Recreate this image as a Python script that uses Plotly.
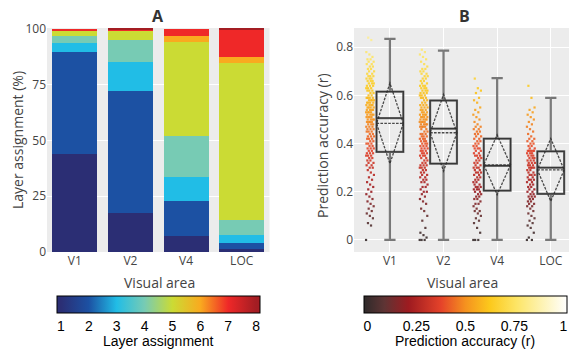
import plotly.graph_objects as go

W, H = 569, 349
def px(x): return x / W
def py(y): return 1 - y / H

# ---------------- Panel A data ----------------
areas = ["V1", "V2", "V4", "LOC"]
layers = [1, 2, 3, 4, 5, 6, 7, 8]
layer_pct = {
    1: [44.0, 17.5, 7.0, 1.3],
    2: [45.8, 54.8, 15.8, 2.6],
    3: [4.1, 13.0, 10.8, 3.6],
    4: [3.1, 9.9, 18.4, 6.7],
    5: [2.4, 4.1, 42.3, 70.4],
    6: [0.1, 0.2, 2.7, 3.0],
    7: [0.5, 0.3, 3.0, 12.1],
    8: [0.0, 0.2, 0.0, 0.3],
}
layer_colors = ["#2b2e74", "#1c51a3", "#21bde6", "#77cbb4",
                "#cbdb34", "#f9aa1f", "#ef2828", "#a31d23"]

# ---------------- Panel B data ----------------
acc_V1 = [0.00, 0.06, 0.07, 0.09, 0.10, 0.11, 0.12, 0.13, 0.14, 0.15, 0.16, 0.17, 0.18, 0.19, 0.20,
          0.21, 0.22, 0.23, 0.24, 0.25, 0.26, 0.27, 0.28, 0.29, 0.30, 0.30, 0.31, 0.31, 0.32, 0.32,
          0.33, 0.33, 0.34, 0.34, 0.35, 0.35, 0.35, 0.36, 0.36, 0.36,
          0.37, 0.37, 0.38, 0.38, 0.38, 0.39, 0.39, 0.40, 0.40, 0.40, 0.41, 0.41, 0.42, 0.42, 0.42,
          0.43, 0.43, 0.43, 0.44, 0.44, 0.45, 0.45, 0.45, 0.46, 0.46, 0.46, 0.47, 0.47, 0.47, 0.48,
          0.48, 0.48, 0.49, 0.49, 0.49, 0.49, 0.50, 0.50, 0.50, 0.50,
          0.51, 0.51, 0.51, 0.51, 0.52, 0.52, 0.52, 0.52, 0.53, 0.53, 0.53, 0.53, 0.54, 0.54, 0.54,
          0.54, 0.55, 0.55, 0.55, 0.55, 0.56, 0.56, 0.56, 0.56, 0.57, 0.57, 0.57, 0.57, 0.58, 0.58,
          0.58, 0.58, 0.59, 0.59, 0.59, 0.59, 0.60, 0.60, 0.61, 0.61,
          0.62, 0.62, 0.62, 0.63, 0.63, 0.63, 0.64, 0.64, 0.64, 0.65, 0.65, 0.65, 0.66, 0.66, 0.66,
          0.67, 0.67, 0.67, 0.68, 0.68, 0.68, 0.69, 0.69, 0.70, 0.70, 0.71, 0.71, 0.72, 0.72, 0.73,
          0.73, 0.74, 0.74, 0.75, 0.75, 0.76, 0.77, 0.78, 0.83, 0.84]
acc_V2 = [0.00, 0.00, 0.00, 0.01, 0.02, 0.03, 0.05, 0.08, 0.10, 0.12, 0.13, 0.15, 0.16, 0.17, 0.18,
          0.19, 0.20, 0.20, 0.21, 0.22, 0.22, 0.23, 0.24, 0.24, 0.25, 0.25, 0.26, 0.26, 0.27, 0.27,
          0.28, 0.28, 0.29, 0.29, 0.30, 0.30, 0.30, 0.31, 0.31, 0.31,
          0.32, 0.32, 0.33, 0.33, 0.34, 0.34, 0.35, 0.35, 0.35, 0.36, 0.36, 0.36, 0.37, 0.37, 0.37,
          0.38, 0.38, 0.38, 0.39, 0.39, 0.39, 0.40, 0.40, 0.40, 0.41, 0.41, 0.41, 0.42, 0.42, 0.42,
          0.43, 0.43, 0.43, 0.44, 0.44, 0.44, 0.45, 0.45, 0.46, 0.46,
          0.47, 0.47, 0.47, 0.47, 0.48, 0.48, 0.48, 0.48, 0.49, 0.49, 0.49, 0.49, 0.50, 0.50, 0.50,
          0.50, 0.51, 0.51, 0.51, 0.51, 0.52, 0.52, 0.52, 0.52, 0.53, 0.53, 0.53, 0.54, 0.54, 0.54,
          0.55, 0.55, 0.55, 0.56, 0.56, 0.56, 0.57, 0.57, 0.58, 0.58,
          0.59, 0.59, 0.59, 0.60, 0.60, 0.60, 0.61, 0.61, 0.61, 0.62, 0.62, 0.62, 0.63, 0.63, 0.63,
          0.64, 0.64, 0.64, 0.65, 0.65, 0.66, 0.66, 0.67, 0.67, 0.68, 0.68, 0.69, 0.69, 0.70, 0.70,
          0.71, 0.71, 0.72, 0.73, 0.74, 0.75, 0.76, 0.77, 0.78, 0.79]
acc_V4 = [0.00, 0.00, 0.00, 0.03, 0.05, 0.07, 0.08, 0.09, 0.10, 0.11, 0.12, 0.12, 0.13, 0.14, 0.15,
          0.15, 0.16, 0.17, 0.17, 0.18, 0.18, 0.19, 0.19, 0.20, 0.20,
          0.21, 0.21, 0.21, 0.22, 0.22, 0.22, 0.23, 0.23, 0.24, 0.24, 0.25, 0.25, 0.26, 0.26, 0.27,
          0.27, 0.28, 0.28, 0.28, 0.29, 0.29, 0.30, 0.30, 0.30, 0.31,
          0.31, 0.32, 0.32, 0.33, 0.33, 0.34, 0.34, 0.35, 0.35, 0.35, 0.36, 0.36, 0.37, 0.37, 0.38,
          0.38, 0.38, 0.39, 0.39, 0.40, 0.40, 0.41, 0.41, 0.42, 0.42,
          0.43, 0.43, 0.44, 0.44, 0.45, 0.45, 0.46, 0.46, 0.47, 0.47, 0.48, 0.49, 0.50, 0.51, 0.52,
          0.53, 0.54, 0.55, 0.57, 0.58, 0.59, 0.61, 0.62, 0.63, 0.67]
acc_LOC = [0.00, 0.00, 0.01, 0.03, 0.05, 0.06, 0.07, 0.08, 0.09, 0.10, 0.11, 0.12, 0.13, 0.14, 0.14,
           0.15, 0.15, 0.16, 0.16, 0.17, 0.17, 0.18, 0.18, 0.18, 0.19,
           0.19, 0.20, 0.20, 0.21, 0.21, 0.22, 0.22, 0.23, 0.23, 0.24, 0.24, 0.25, 0.25, 0.25, 0.26,
           0.26, 0.27, 0.27, 0.27, 0.28, 0.28, 0.29, 0.29, 0.30, 0.30,
           0.30, 0.30, 0.31, 0.31, 0.31, 0.32, 0.32, 0.32, 0.33, 0.33, 0.33, 0.34, 0.34, 0.34, 0.35,
           0.35, 0.35, 0.36, 0.36, 0.36, 0.37, 0.37, 0.37, 0.37, 0.37,
           0.38, 0.38, 0.39, 0.39, 0.40, 0.40, 0.41, 0.41, 0.42, 0.42, 0.43, 0.44, 0.45, 0.46, 0.47,
           0.48, 0.49, 0.50, 0.51, 0.52, 0.53, 0.54, 0.55, 0.59, 0.64]
acc_points = [acc_V1, acc_V2, acc_V4, acc_LOC]

box_q1 = [0.366, 0.317, 0.205, 0.191]
box_median = [0.506, 0.462, 0.308, 0.300]
box_q3 = [0.616, 0.579, 0.421, 0.368]
box_low = [0.0, 0.0, 0.0, 0.0]
box_high = [0.835, 0.786, 0.672, 0.590]
box_mean = [0.484, 0.445, 0.312, 0.291]
box_sd = [0.167, 0.159, 0.124, 0.130]

acc_scale = [[0.0, "#2e2a2a"], [0.10, "#5e3434"], [0.22, "#9e1b20"], [0.38, "#e5432a"],
             [0.50, "#f5921f"], [0.62, "#fcc91c"], [0.75, "#fde565"], [0.88, "#fdf3b5"],
             [1.0, "#ffffff"]]

cb_font = dict(family="Liberation Sans", size=14, color="black")

fig = go.Figure()

# ---------- Panel A: stacked bars ----------
for k, lay in enumerate(layers):
    fig.add_trace(go.Bar(x=list(range(len(areas))), y=layer_pct[lay], width=0.81,
                         marker=dict(color=layer_colors[k], line=dict(width=0)),
                         xaxis="x", yaxis="y", showlegend=False, hoverinfo="skip"))

# colorbar A via dummy trace
cminA, cmaxA = 0.86, 8.14
layer_scale = [[(v - cminA) / (cmaxA - cminA), c] for v, c in zip(layers, layer_colors)]
layer_scale = [[0.0, layer_colors[0]]] + layer_scale + [[1.0, layer_colors[-1]]]
fig.add_trace(go.Scatter(
    x=[-10, -10], y=[0, 0], mode="markers", xaxis="x", yaxis="y", showlegend=False,
    hoverinfo="skip",
    marker=dict(color=[1, 8], cmin=cminA, cmax=cmaxA, colorscale=layer_scale, showscale=True,
                colorbar=dict(orientation="h", x=px(158.5), xanchor="center",
                              y=py(296), yanchor="top", len=203, lenmode="pixels",
                              thickness=17, thicknessmode="pixels", xpad=0, ypad=0,
                              outlinewidth=1, outlinecolor="black",
                              tickvals=layers, ticks="", tickfont=cb_font))))

# ---------- Panel B: points ----------
offset = -0.37
for i, vals in enumerate(acc_points):
    xs = [i + offset + (((j * 0.6180339887) % 1.0) - 0.5) * 0.15 for j in range(len(vals))]
    fig.add_trace(go.Scatter(
        x=xs, y=vals, mode="markers", xaxis="x2", yaxis="y2", showlegend=False,
        hoverinfo="skip",
        marker=dict(symbol="square", size=2.2, color=vals, cmin=-0.0184, cmax=1.0184,
                    colorscale=acc_scale, opacity=0.9, line=dict(width=0),
                    showscale=(i == 0),
                    colorbar=dict(orientation="h", x=px(465.4), xanchor="center",
                                  y=py(296), yanchor="top", len=203, lenmode="pixels",
                                  thickness=17, thicknessmode="pixels", xpad=0, ypad=0,
                                  outlinewidth=1, outlinecolor="black",
                                  tickvals=[0, 0.25, 0.5, 0.75, 1],
                                  ticktext=["0", "0.25", "0.5", "0.75", "1"], ticks="",
                                  tickfont=cb_font))))

# ---------- Panel B: boxes (gray whiskers, then darker box/median/mean) ----------
for i in range(len(areas)):
    fig.add_trace(go.Box(
        x=[i], q1=[box_q1[i]], median=[box_median[i]], q3=[box_q3[i]],
        lowerfence=[box_low[i]], upperfence=[box_high[i]],
        boxpoints=False, width=0.5, whiskerwidth=0.42, fillcolor="rgba(0,0,0,0)",
        line=dict(color="rgba(90,90,90,0.8)", width=2.2),
        xaxis="x2", yaxis="y2", showlegend=False, hoverinfo="skip"))
    fig.add_trace(go.Box(
        x=[i], q1=[box_q1[i]], median=[box_median[i]], q3=[box_q3[i]],
        lowerfence=[box_q1[i]], upperfence=[box_q3[i]],
        mean=[box_mean[i]], sd=[box_sd[i]], boxmean="sd", boxpoints=False,
        width=0.5, whiskerwidth=0, fillcolor="rgba(0,0,0,0)",
        line=dict(color="rgba(45,45,45,0.85)", width=1.3),
        xaxis="x2", yaxis="y2", showlegend=False, hoverinfo="skip"))

axis_common = dict(showline=False, zeroline=False, ticks="", gridcolor="white",
                   gridwidth=1.3, tickfont=dict(family="Open Sans", size=12, color="#444"))

fig.update_layout(
    width=W, height=H, margin=dict(l=0, r=0, t=0, b=0, autoexpand=False),
    paper_bgcolor="white", plot_bgcolor="#ececec",
    font=dict(family="Open Sans", color="#444"),
    barmode="stack", boxmode="overlay", showlegend=False,
    xaxis=dict(domain=[px(47), px(269.5)], range=[-0.5, 3.5], tickvals=[0, 1, 2, 3],
               ticktext=areas, showgrid=False, anchor="y", automargin=False, **axis_common),
    yaxis=dict(domain=[py(252), py(28)], range=[0, 100.4], tickvals=[0, 25, 50, 75, 100],
               anchor="x", automargin=False, **axis_common),
    xaxis2=dict(domain=[px(354), 1.0], range=[-0.67, 3.34], tickvals=[0, 1, 2, 3],
                ticktext=areas, showgrid=True, anchor="y2", automargin=False, **axis_common),
    yaxis2=dict(domain=[py(252), py(28)], range=[-0.05, 0.88],
                tickvals=[0, 0.2, 0.4, 0.6, 0.8], ticktext=["0", "0.2", "0.4", "0.6", "0.8"],
                anchor="x2", automargin=False, **axis_common),
)

ann_font = dict(family="Open Sans", size=14, color="#444")
def label(text, x, y, font, angle=0):
    fig.add_annotation(text=text, x=px(x), y=py(y), xref="paper", yref="paper",
                       xanchor="center", yanchor="middle", showarrow=False,
                       textangle=angle, font=font)

label("<b>A</b>", 158, 16, dict(family="Open Sans", size=16, color="#333"))
label("<b>B</b>", 464, 16, dict(family="Open Sans", size=16, color="#333"))
label("Layer assignment (%)", 17, 140, ann_font, -90)
label("Prediction accuracy (r)", 322, 146, ann_font, -90)
label("Visual area", 159, 282, ann_font)
label("Visual area", 462, 282, ann_font)
label("Layer assignment", 158, 341, cb_font)
label("Prediction accuracy (r)", 465, 341, cb_font)

fig.write_html("out.html")
